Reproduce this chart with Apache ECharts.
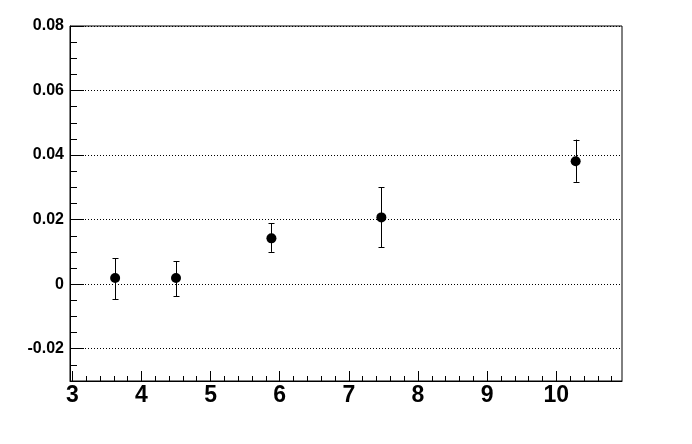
<!DOCTYPE html>
<html>
<head>
<meta charset="utf-8">
<script src="https://cdn.jsdelivr.net/npm/echarts@6/dist/echarts.min.js"></script>
<style>html,body{margin:0;padding:0;background:#fff}#c{width:692px;height:444px}</style>
</head>
<body>
<div id="c"></div>
<script>
// data
const xValues = [3.62, 4.50, 5.88, 7.47, 10.28];
const yValues = [0.0019, 0.0019, 0.0142, 0.0207, 0.0381];
const yLow    = [-0.0046, -0.0037, 0.0100, 0.0115, 0.0317];
const yHigh   = [0.0080, 0.0071, 0.0189, 0.0300, 0.0448];
// ticks
const xTickLabels = [3, 4, 5, 6, 7, 8, 9, 10];
const yTickLabels = [-0.02, 0, 0.02, 0.04, 0.06, 0.08];
const xRange = [2.967, 10.95];
const yRange = [-0.03, 0.08];

const xMinor = [];
for (let i = 0; i <= 39; i++) { const v = +(3 + i * 0.2).toFixed(3); if (v <= xRange[1]) xMinor.push(v); }
const yMinor = [];
for (let i = 0; i <= 22; i++) yMinor.push(+(-0.03 + i * 0.005).toFixed(4));

const fmtY = v => { const r = Math.round(v * 1000) / 1000; return r === 0 ? '0' : r.toFixed(2); };

const chart = echarts.init(document.getElementById('c'), null, {renderer: 'canvas'});
const font = 'Liberation Sans, Arial, Helvetica, sans-serif';
chart.setOption({
  animation: false,
  backgroundColor: '#fff',
  grid: {left: 70, right: 70, top: 26, bottom: 63, show: true, borderColor: '#000', borderWidth: 1, backgroundColor: 'transparent'},
  xAxis: [
    {type: 'value', min: xRange[0], max: xRange[1], position: 'bottom',
     axisLine: {show: true, onZero: false, lineStyle: {color: '#000', width: 1}},
     axisTick: {show: true, inside: true, length: 10, customValues: xTickLabels, lineStyle: {color: '#000'}},
     axisLabel: {show: true, customValues: xTickLabels, color: '#000', fontWeight: 'bold', fontSize: 23, fontFamily: font, margin: 3, formatter: v => String(Math.round(v))},
     splitLine: {show: false}},
    {type: 'value', min: xRange[0], max: xRange[1], position: 'bottom',
     axisLine: {show: false, onZero: false},
     axisTick: {show: true, inside: true, length: 5, customValues: xMinor, lineStyle: {color: '#000'}},
     axisLabel: {show: false},
     splitLine: {show: false}}
  ],
  yAxis: [
    {type: 'value', min: yRange[0], max: yRange[1], position: 'left',
     axisLine: {show: true, onZero: false, lineStyle: {color: '#000', width: 1}},
     axisTick: {show: true, inside: true, length: 14, customValues: yTickLabels, lineStyle: {color: '#000'}},
     axisLabel: {show: true, customValues: yTickLabels, color: '#000', fontWeight: 'bold', fontSize: 16, fontFamily: font, margin: 6, formatter: fmtY},
     splitLine: {show: true, lineStyle: {color: '#000', width: 1, type: [1, 2]}}},
    {type: 'value', min: yRange[0], max: yRange[1], position: 'left',
     axisLine: {show: false, onZero: false},
     axisTick: {show: true, inside: true, length: 7, customValues: yMinor, lineStyle: {color: '#000'}},
     axisLabel: {show: false},
     splitLine: {show: false}}
  ],
  series: [
    {type: 'custom', xAxisIndex: 0, yAxisIndex: 0, z: 3,
     data: xValues.map((x, i) => [x, yLow[i], yHigh[i]]),
     renderItem: (params, api) => {
       const lo = api.coord([api.value(0), api.value(1)]);
       const hi = api.coord([api.value(0), api.value(2)]);
       const x = Math.round(lo[0]) + 0.5;
       const w = 3;
       const st = {stroke: '#000', lineWidth: 1};
       return {type: 'group', children: [
         {type: 'line', shape: {x1: x, y1: lo[1], x2: x, y2: hi[1]}, style: st},
         {type: 'line', shape: {x1: x - w, y1: Math.round(lo[1]) + 0.5, x2: x + w, y2: Math.round(lo[1]) + 0.5}, style: st},
         {type: 'line', shape: {x1: x - w, y1: Math.round(hi[1]) + 0.5, x2: x + w, y2: Math.round(hi[1]) + 0.5}, style: st}
       ]};
     }},
    {type: 'scatter', xAxisIndex: 0, yAxisIndex: 0, z: 4,
     symbol: 'circle', symbolSize: 10,
     itemStyle: {color: '#000', opacity: 1},
     emphasis: {disabled: true},
     data: xValues.map((x, i) => [x, yValues[i]])}
  ]
});
</script>
</body>
</html>
